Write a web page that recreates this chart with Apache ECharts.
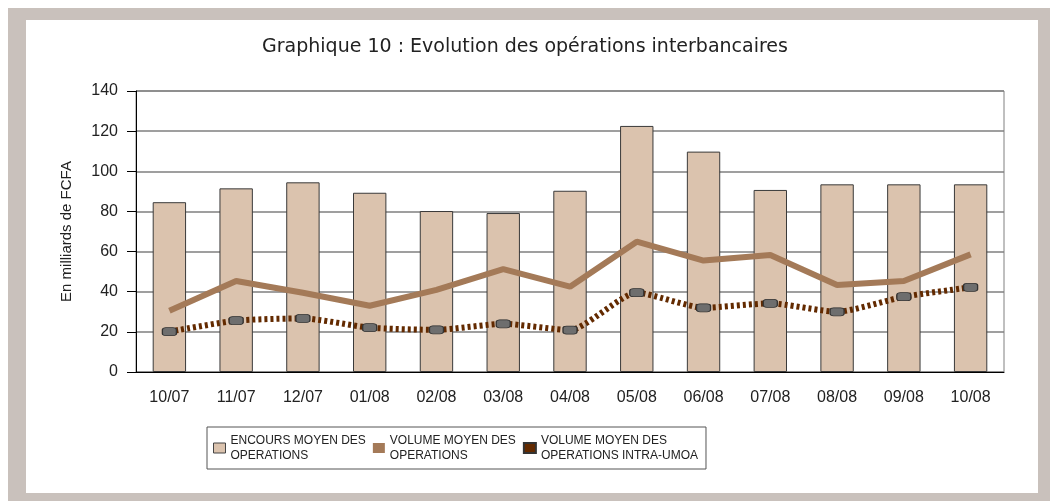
<!DOCTYPE html>
<html lang="fr">
<head>
    <meta charset="UTF-8">
    <title>Graphique 10</title>
    <style>
        body { margin: 0; padding: 0; background: #ffffff; }
        #frame {
            position: absolute;
            left: 8px; top: 8px;
            width: 1042px; height: 493px;
            background: #c9c1bc;
        }
        #inner {
            position: absolute;
            left: 18px; top: 12px;
            width: 1012px; height: 473px;
            background: #ffffff;
        }
        #chart-container {
            position: absolute;
            left: 0; top: 0;
            width: 1050px; height: 501px;
        }
    </style>
</head>
<body>
    <div id="frame"><div id="inner"></div></div>
    <div id="chart-container"></div>
    <script src="https://cdn.jsdelivr.net/npm/echarts@6/dist/echarts.min.js"></script>
    <script>
        // mois (10/07 -> 10/08)
        const months = ['10/07', '11/07', '12/07', '01/08', '02/08', '03/08', '04/08',
                        '05/08', '06/08', '07/08', '08/08', '09/08', '10/08'];
        // encours moyen des operations (barres)
        const encours = [84.6, 91.5, 94.5, 89.3, 80.2, 79.2, 90.3, 122.6, 109.8, 90.7, 93.5, 93.5, 93.5];
        // volume moyen des operations
        const volume = [30.5, 45.3, 39.5, 33, 40.9, 51.3, 42.5, 64.9, 55.5, 58.3, 43.3, 45.3, 58.6];
        // volume moyen des operations intra-UMOA
        const volumeUmoa = [20.1, 25.6, 26.7, 22.1, 21, 24, 20.9, 39.5, 32, 34.2, 30, 37.5, 42.2];

        const seriesNames = ['ENCOURS MOYEN DES\nOPERATIONS', 'VOLUME MOYEN DES\nOPERATIONS',
                             'VOLUME MOYEN DES\nOPERATIONS INTRA-UMOA'];

        const font = 'Liberation Sans';

        var dom = document.getElementById('chart-container');
        var myChart = echarts.init(dom, null, { renderer: 'canvas' });

        var option = {
            animation: false,
            textStyle: { fontFamily: font },
            title: {
                text: 'Graphique 10 : Evolution des opérations interbancaires',
                left: 'center',
                top: 33,
                textStyle: { fontFamily: 'DejaVu Sans', fontSize: 19, fontWeight: 'normal', color: '#222' }
            },
            grid: {
                left: 136,
                right: 46,
                top: 91,
                bottom: 129,
                show: true,
                borderColor: '#808080',
                borderWidth: 1
            },
            legend: {
                left: 207,
                top: 427,
                width: 495,
                padding: [6, 8, 6, 6],
                itemGap: 7,
                itemWidth: 12,
                itemHeight: 10,
                borderColor: '#555',
                borderWidth: 1,
                align: 'left',
                textStyle: { fontFamily: font, fontSize: 12, color: '#222', lineHeight: 15 },
                data: [
                    { name: seriesNames[0], icon: 'rect',
                      itemStyle: { color: '#dbc3ae', borderColor: '#444', borderWidth: 1 } },
                    { name: seriesNames[1], icon: 'rect', itemStyle: { color: '#a47a58' } },
                    { name: seriesNames[2], icon: 'rect', itemStyle: { color: '#632a00' } }
                ]
            },
            xAxis: {
                type: 'category',
                data: months,
                axisLine: { lineStyle: { color: '#000', width: 1 } },
                axisTick: { alignWithLabel: true, length: 8, lineStyle: { color: '#000' } },
                axisLabel: { fontFamily: font, fontSize: 16, color: '#222', margin: 18 }
            },
            yAxis: {
                type: 'value',
                min: 0,
                max: 140,
                interval: 20,
                name: 'En milliards de FCFA',
                nameLocation: 'middle',
                nameGap: 62,
                nameTextStyle: { fontFamily: font, fontSize: 15, color: '#222' },
                axisLine: { show: true, lineStyle: { color: '#000', width: 1 } },
                axisTick: { show: true, length: 9, lineStyle: { color: '#000' } },
                axisLabel: { fontFamily: font, fontSize: 16, color: '#222', margin: 18 },
                splitLine: { lineStyle: { color: '#7f7f7f', width: 1.5 } }
            },
            series: [
                {
                    name: seriesNames[0],
                    type: 'bar',
                    data: encours,
                    barWidth: '50%',
                    itemStyle: { color: '#dbc3ae', borderColor: '#3a3a3a', borderWidth: 1 }
                },
                {
                    name: seriesNames[1],
                    type: 'line',
                    data: volume,
                    symbol: 'none',
                    lineStyle: { color: '#a47a58', width: 6 },
                    itemStyle: { color: '#a47a58' }
                },
                {
                    name: seriesNames[2],
                    type: 'line',
                    data: volumeUmoa,
                    smooth: 0.2,
                    symbol: 'roundRect',
                    symbolSize: [14, 8],
                    lineStyle: { color: '#632a00', width: 6, type: [3, 3] },
                    itemStyle: { color: '#6e6e6e', borderColor: '#333', borderWidth: 1 }
                }
            ]
        };

        myChart.setOption(option);
        window.addEventListener('resize', myChart.resize);
    </script>
</body>
</html>
